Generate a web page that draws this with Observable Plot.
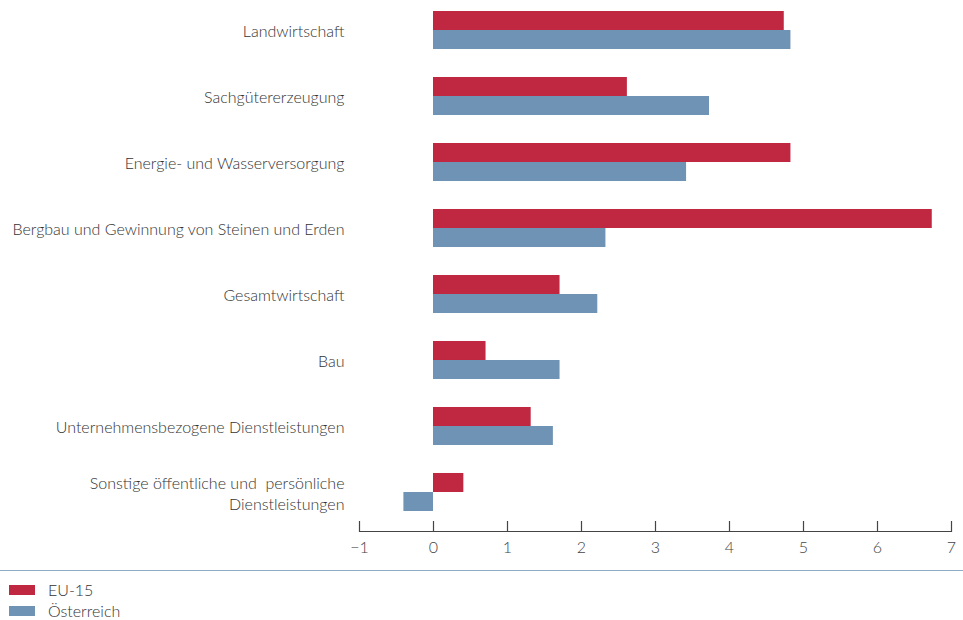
<!DOCTYPE html>
<html><head><meta charset="utf-8">
<script src="https://cdn.jsdelivr.net/npm/d3@7"></script>
<script src="https://cdn.jsdelivr.net/npm/@observablehq/plot@0.6"></script>
<style>
html,body{margin:0;padding:0;background:#fff;}
body{font-family:Lato,"Open Sans",sans-serif;font-weight:300;color:#333;width:963px;}
#chart svg{display:block;}
#legend{border-top:1.5px solid #8eaac6;width:963px;padding-top:8px;}
.item{display:flex;align-items:center;height:21px;font-size:16px;color:#333;}
.sw{width:26px;height:10px;margin-left:9px;margin-right:13px;}
</style>
</head><body>
<div id="chart"></div>
<div id="legend"></div>
<script>
const categories = [
  "Landwirtschaft",
  "Sachgütererzeugung",
  "Energie- und Wasserversorgung",
  "Bergbau und Gewinnung von Steinen und Erden",
  "Gesamtwirtschaft",
  "Bau",
  "Unternehmensbezogene Dienstleistungen",
  "Sonstige öffentliche und  persönliche\nDienstleistungen"
];
const eu15 = [4.74, 2.62, 4.83, 6.74, 1.71, 0.71, 1.32, 0.41];
const oesterreich = [4.83, 3.73, 3.42, 2.33, 2.22, 1.71, 1.62, -0.40];
const seriesNames = ["EU-15", "Österreich"];
const seriesColors = ["#c02740", "#6e93b5"];
const xTicks = [-1, 0, 1, 2, 3, 4, 5, 6, 7];

const euData = categories.map((c, i) => ({cat: c, v: eu15[i]}));
const atData = categories.map((c, i) => ({cat: c, v: oesterreich[i]}));

const H = 570, marginTop = 11, marginBottom = H - 531;
const pi = 0.424;
const step = 500 / (categories.length - pi);
const half = step * (1 - pi) / 2;

const chart = Plot.plot({
  width: 963,
  height: H,
  marginLeft: 359,
  marginRight: 12,
  marginTop,
  marginBottom,
  style: {fontFamily: "Lato, 'Open Sans', sans-serif", fontSize: "16px", color: "#333", fontWeight: 300},
  x: {domain: [-1, 7], label: null},
  y: {domain: categories, paddingInner: pi, paddingOuter: 0, insetBottom: 20, round: false, label: null},
  marks: [
    Plot.barX(euData, {x: "v", y: "cat", fill: seriesColors[0], insetBottom: half}),
    Plot.barX(atData, {x: "v", y: "cat", fill: seriesColors[1], insetTop: half}),
    Plot.frame({anchor: "bottom", stroke: "#444", strokeWidth: 1.2}),
    Plot.axisX({ticks: xTicks, tickSize: 10, dy: -10, tickFormat: () => "", stroke: "#444", strokeWidth: 1.2}),
    Plot.axisX({ticks: xTicks, tickSize: 0, tickPadding: 10, fill: "#444", fontSize: 16}),
    Plot.axisY({tickSize: 0, tickPadding: 15, fill: "#333", fontSize: 16, lineHeight: 1.35})
  ]
});
document.getElementById("chart").append(chart);

const leg = document.getElementById("legend");
seriesNames.forEach((n, i) => {
  const d = document.createElement("div");
  d.className = "item";
  d.innerHTML = `<span class="sw" style="background:${seriesColors[i]}"></span><span>${n}</span>`;
  leg.append(d);
});
</script>
</body></html>
